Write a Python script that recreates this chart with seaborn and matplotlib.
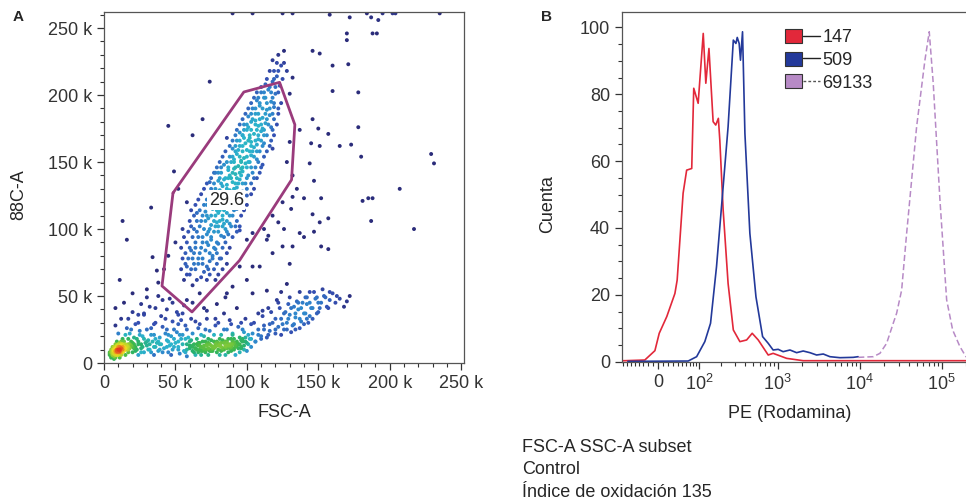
import numpy as np
import pandas as pd
import matplotlib
matplotlib.use("Agg")
import matplotlib.pyplot as plt
import seaborn as sns
from matplotlib.colors import LinearSegmentedColormap
from matplotlib.patches import Patch
from matplotlib.lines import Line2D
from matplotlib.legend_handler import HandlerTuple
from matplotlib.ticker import FixedLocator, MultipleLocator

# ---------------- panel A : FSC-A vs 88C-A events (k units) ----------------
gate_pts = [
    (62,58),(65,62),(60,66),(68,64),(64,70),(70,68),(66,74),(72,72),(62,78),(69,78),(74,76),(67,82),
    (71,84),(76,80),(64,86),(73,88),(78,85),(69,90),(75,92),(80,89),(58,72),(77,70),(82,78),(61,84),
    (66,94),(72,96),(77,98),(82,95),(70,100),(75,103),(80,102),(85,100),(68,106),(73,108),(78,110),
    (83,107),(88,104),(71,113),(76,115),(81,114),(86,112),(90,110),(74,118),(79,120),(84,119),(89,117),
    (93,115),(65,112),(63,100),(87,96),(92,102),(77,106),(82,118),(70,118),
    (76,124),(81,126),(86,123),(91,125),(95,121),(78,130),(83,132),(88,129),(93,131),(97,128),(80,136),
    (85,138),(90,135),(95,137),(99,134),(82,142),(87,144),(92,141),(97,143),(101,140),(84,148),(89,150),
    (94,147),(99,149),(103,146),(74,135),(78,142),(105,138),(100,125),(88,140),(92,128),
    (88,154),(93,156),(98,153),(103,155),(107,152),(90,160),(95,162),(100,159),(105,161),(109,158),
    (93,166),(98,168),(103,165),(108,167),(112,164),(95,172),(100,174),(105,171),(110,173),(114,170),
    (98,178),(103,180),(108,177),(113,179),(117,176),(86,168),(118,160),(102,150),(96,145),(111,148),
    (101,184),(106,186),(111,183),(116,185),(104,190),(109,192),(114,189),(119,191),(107,196),(112,198),
    (117,195),(110,202),(115,204),(120,201),(113,208),(118,210),(123,207),(121,214),(116,218),(124,222),
    (118,226),(122,230),(126,233),(128,218),
    (74,100),(79,105),(84,104),(72,110),(80,112),(85,116),(77,121),(83,123),(87,120),(81,129),(86,133),
    (90,127),(84,137),(89,138),(94,134),(87,146),(91,145),(96,140),(91,152),(96,151),(100,146),(94,159),
    (99,164),(104,158),(97,170),(102,168),(107,163),(101,176),(106,181),(111,175),
]
# extra gate events, read row by row: (88C-A level, FSC-A values)
gate_rows = [
    (62, [56, 72, 78]), (66, [58, 74, 80]), (70, [54, 61, 73, 83]), (74, [57, 63, 69, 79, 86]),
    (78, [55, 59, 66, 76, 81]), (82, [57, 63, 74, 79, 86]), (86, [54, 60, 68, 77, 83, 88]),
    (90, [58, 64, 72, 79, 85]), (94, [56, 62, 69, 75, 84, 90]), (98, [59, 65, 73, 80, 86, 93]),
    (102, [61, 67, 78, 83, 89, 95]), (106, [60, 65, 71, 81, 86, 93]), (110, [63, 69, 75, 83, 88, 96]),
    (114, [61, 67, 79, 84, 91, 98]), (118, [64, 72, 77, 87, 94, 100]), (122, [66, 72, 80, 85, 89, 97]),
    (126, [68, 74, 79, 88, 94, 103]), (130, [70, 75, 86, 91, 100, 105]), (134, [72, 77, 82, 92, 97, 103]),
    (138, [75, 81, 87, 93, 100, 107]), (142, [77, 80, 90, 95, 104, 109]), (146, [79, 82, 92, 97, 106, 110]),
    (150, [81, 86, 91, 96, 101, 108]), (154, [83, 90, 95, 100, 105, 112]), (158, [85, 92, 97, 102, 107, 114]),
    (162, [88, 92, 97, 103, 111, 116]), (166, [90, 95, 101, 106, 110, 117]), (170, [92, 97, 102, 108, 112, 119]),
    (174, [93, 98, 103, 107, 112, 118]), (178, [95, 100, 106, 110, 115, 121]), (182, [97, 104, 109, 114, 119]),
    (186, [99, 103, 108, 113, 118, 122]), (190, [101, 106, 111, 116, 122]), (194, [103, 109, 114, 119, 124]),
    (198, [105, 108, 113, 118]), (202, [107, 112, 117, 122]), (206, [110, 116, 120]),
    (212, [114, 119, 125]), (218, [119, 122]), (224, [121, 126]),
]
band_pts = [
    (5,5),(6,6),(5,8),(7,7),(6,9),(8,6),(7,5),(6,7),(8,8),(5,10),(7,10),(9,9),(9,7),(10,8),(8,11),
    (10,10),(11,9),(12,11),(11,12),(13,10),(14,12),(12,13),(15,11),(13,14),(16,13),(17,12),(15,14),
    (18,14),(19,13),(6,12),(9,13),(4,7),(7,3),(10,6),(12,8),(14,9),(16,10),(18,11),(20,12),(11,15),
    (14,16),(20,15),(21,11),(6,8),(7,9),(8,9),(6,6),(9,10),
    (22,9),(24,14),(26,11),(28,8),(30,13),(32,10),(34,16),(36,12),(38,9),(40,14),(42,11),(44,17),
    (46,13),(48,10),(50,15),(52,12),(54,18),(56,9),(58,14),(60,11),(23,18),(27,20),(31,17),(35,21),
    (39,19),(43,22),(47,20),(51,23),(55,21),(59,19),(25,24),(33,26),(41,27),(49,25),(57,28),(29,15),
    (37,15),(45,8),(53,7),(21,19),
    (62,9),(64,11),(66,8),(68,12),(70,10),(72,13),(74,9),(76,11),(78,14),(80,10),(82,12),(84,15),
    (86,11),(88,13),(90,16),(92,12),(94,14),(96,17),(98,13),(100,15),(63,14),(67,15),(71,16),(75,17),
    (79,16),(83,17),(87,18),(91,18),(95,19),(65,10),(69,9),(73,11),(77,12),(81,13),(85,13),(89,14),
    (93,15),(97,16),(70,13),(74,14),(78,12),(82,15),(86,16),(90,14),(76,9),(84,10),(88,11),(92,13),
    (80,15),(72,10),(66,13),(60,13),(61,17),(94,11),(99,19),
    (62,22),(66,26),(70,20),(74,24),(78,28),(82,21),(86,25),(90,22),(94,27),(98,23),(64,31),(72,33),
    (80,30),(88,32),(96,30),(68,6),(85,6),(100,9),(58,5),
    (102,18),(104,22),(106,16),(108,25),(110,20),(112,28),(114,19),(116,24),(118,30),(120,22),
    (122,27),(124,33),(126,25),(128,30),(130,36),(132,28),(134,34),(136,40),(138,31),(140,37),
    (142,44),(144,35),(146,41),(148,48),(150,38),(152,45),(154,50),(156,42),(158,47),(160,52),
    (105,30),(111,35),(117,38),(123,41),(129,44),(135,46),(141,49),(147,53),(153,55),(131,23),
    (137,26),(143,30),(127,38),(133,42),(139,45),
    (8,28),(12,33),(16,26),(20,38),(14,45),(24,30),(28,36),(32,42),(36,30),(40,35),(44,40),(48,31),
    (52,36),(56,43),(10,22),(18,22),(26,44),(38,50),(46,48),(54,32),
]
band_rows = [
    (4, [5, 8, 11]), (6, [4, 9, 12, 15, 24, 35, 47, 64, 73, 81, 92]),
    (8, [4, 9, 11, 13, 17, 20, 26, 33, 41, 57, 63, 71, 79, 87, 95]),
    (9, [68, 75, 82, 89]), (11, [64, 70, 77, 83, 90, 96]), (13, [62, 67, 75, 80, 87, 93]),
    (15, [66, 73, 79, 86, 91]),
    (10, [6, 11, 14, 17, 23, 31, 39, 52, 58, 67, 75, 83, 91, 98]),
    (12, [7, 10, 13, 16, 22, 27, 35, 44, 49, 62, 68, 76, 85, 89, 96, 103]),
    (14, [8, 10, 12, 17, 21, 26, 32, 39, 47, 55, 65, 72, 81, 88, 95, 101]),
    (16, [9, 12, 19, 24, 30, 38, 45, 52, 60, 69, 77, 85, 93, 99, 106]),
    (18, [13, 17, 28, 36, 49, 57, 65, 73, 81, 89, 97, 103, 110]),
    (21, [15, 25, 33, 45, 53, 68, 77, 90, 101, 108, 115, 124]),
    (25, [19, 30, 44, 58, 71, 84, 97, 112, 120, 128, 134]),
    (29, [22, 35, 52, 67, 89, 103, 116, 125, 133, 140]),
    (33, [17, 43, 61, 78, 99, 120, 129, 137, 142, 146]),
    (37, [28, 55, 84, 108, 126, 134, 141, 149]),
    (41, [36, 70, 93, 115, 131, 138, 145, 151, 157]),
    (45, [48, 62, 122, 136, 144, 150, 162]), (49, [30, 85, 130, 142, 149, 155]), (53, [137, 144, 158]),
]
sparse_pts = [
    (45,177),(62,170),(74,210),(69,182),(49,143),(33,116),(13,106),(16,92),(11,62),(30,55),(34,79),
    (37,69),(20,52),(24,36),(8,41),(132,213),(130,201),(137,174),(145,164),(151,162),(146,182),
    (150,175),(157,171),(165,162),(173,163),(178,176),(178,202),(171,223),(170,246),(170,241),
    (172,258),(187,258),(188,246),(191,246),(192,256),(203,262),(160,222),(146,233),(151,231),
    (144,149),(147,136),(152,123),(160,203),(180,154),(181,121),(188,123),(185,123),(207,130),
    (187,106),(229,156),(231,149),(217,100),(146,111),(151,105),(157,108),(137,97),(140,94),
    (147,98),(152,87),(157,85),(132,87),(125,87),(130,74),(140,123),(131,115),(132,124),(126,100),
    (163,50),(165,48),(172,50),(168,42),(170,46),
    (90,261),(104,261),(125,261),(132,261),(158,260),(184,261),(195,261),(202,261),(204,261),(235,261),
    (95,99),(100,92),(104,97),(114,92),(118,82),(109,72),(100,62),(90,57),(104,52),(114,54),(121,47),
    (111,39),(124,53),(128,59),(104,72),(95,72),(86,52),(79,44),(72,39),(67,52),(58,47),(51,38),(41,47),
    (128,150),(132,140),(135,130),(125,120),(118,110),(112,100),(130,165),(122,105),(115,95),
    (55,100),(50,90),(45,80),(58,120),(52,130),(42,70),(38,60),
]
gate_x = [48.3, 97.9, 122.9, 133.6, 131.3, 94.9, 61.6, 40.6, 48.3]
gate_y = [126.9, 202.3, 209.5, 177.9, 136.8, 76.6, 38.1, 57.5, 126.9]
gate_pct = "29.6"

# ---------------- panel B : PE (Rodamina) histograms ----------------
red_x = [-85, -75, -27, -6.5, 2, 17, 34, 39, 53, 62, 76, 82, 96, 114, 124, 137, 156, 169, 183, 191,
         211, 244, 284, 343, 416, 487, 578, 766, 880, 1286, 2050, 10000, 100000, 262144]
red_y = [0.3, 0.3, 0.5, 3.3, 8.5, 13.5, 20.4, 24.4, 50.4, 57.3, 57.8, 81.8, 77.3, 98.2, 83.3, 93.7,
         71.8, 70.8, 72.8, 66.3, 45.4, 23.4, 9.5, 6.0, 6.5, 8.5, 6.5, 2.0, 2.5, 1.0, 0.3, 0.3, 0.3, 0.3]
blue_x = [-67, 66, 91, 120, 144, 173, 201, 244, 284, 306, 318, 336, 349, 370, 396, 456, 542, 654,
          766, 880, 1014, 1166, 1413, 1703, 2050, 2475, 2987, 3600, 4340, 5745, 8343, 9600]
blue_y = [0.1, 0.2, 1.5, 6.0, 11.5, 28.4, 46.4, 70.3, 96.2, 95.2, 97.0, 95.2, 90.2, 98.7, 68.3, 38.4,
          19.4, 7.5, 5.5, 3.5, 3.7, 3.0, 3.5, 2.7, 3.2, 2.7, 2.0, 2.3, 1.5, 1.2, 1.3, 1.5]
purple_x = [9600, 14640, 17670, 21330, 25670, 28245, 32500, 37400, 49500, 62500, 70560, 78900,
            95250, 115000, 136100, 167000, 197600, 262144]
purple_y = [1.3, 1.5, 2.5, 5.5, 11.5, 14.5, 21.4, 38.4, 70.3, 90.2, 98.7, 83.3, 48.4, 18.5, 9.5,
            4.5, 1.5, 1.0]
legend_labels = ["147", "509", "69133"]

footer = "FSC-A SSC-A subset\nControl\nÍndice de oxidación 135"

# ---------------- style ----------------
sns.set_style("ticks")
plt.rcParams["font.family"] = ["Liberation Sans", "DejaVu Sans"]
plt.rcParams["mathtext.fontset"] = "custom"
plt.rcParams["mathtext.rm"] = "Liberation Sans"
plt.rcParams["axes.edgecolor"] = "#555555"
plt.rcParams["axes.linewidth"] = 0.9
plt.rcParams["xtick.color"] = "#333333"
plt.rcParams["ytick.color"] = "#333333"

red = "#e2283a"
blue = "#23399a"
purple = "#b78ac6"
FS = 13

fig = plt.figure(figsize=(9.66, 5.03), dpi=100)
axA = fig.add_axes([104 / 966, 140 / 503, 360 / 966, 351 / 503])
axB = fig.add_axes([621.7 / 966, 141.3 / 503, 354.3 / 966, 350 / 503])

# ---- panel A ----
all_pts = gate_pts + band_pts + sparse_pts
for yv, xs in gate_rows + band_rows:
    all_pts += [(xv, yv) for xv in xs]
pts = np.array(all_pts, dtype=float)
norm_pts = pts / np.array([250.0, 262.0])
d2 = ((norm_pts[:, None, :] - norm_pts[None, :, :]) ** 2).sum(-1)
dens = np.exp(-d2 / (2 * 0.02 ** 2)).sum(1)
df = pd.DataFrame({"FSC-A": pts[:, 0], "88C-A": pts[:, 1], "dens": dens}).sort_values("dens")

flow_cmap = LinearSegmentedColormap.from_list(
    "flow", [(0.0, "#2b2c7a"), (0.1, "#3550b3"), (0.2, "#2f86cc"), (0.3, "#2bb5cc"),
             (0.42, "#26b070"), (0.6, "#3fb84a"), (0.78, "#b5d52a"), (0.9, "#f1e01e"),
             (1.0, "#e33a1f")])
sns.scatterplot(data=df, x="FSC-A", y="88C-A", hue="dens", palette=flow_cmap,
                hue_norm=(2, dens.max()), s=8, linewidth=0, legend=False, ax=axA)

sns.lineplot(x=gate_x, y=gate_y, sort=False, color="#9a3b7c", lw=2.0, ax=axA, estimator=None)
axA.text(85.6, 121.4, gate_pct, fontsize=FS, ha="center", va="center",
         bbox=dict(facecolor="white", edgecolor="none", pad=1.0))

axA.set_xlim(0, 252)
axA.set_ylim(0, 262)
axA.xaxis.set_minor_locator(MultipleLocator(10))
axA.yaxis.set_minor_locator(MultipleLocator(10))
ticklab = ["0" if v == 0 else f"{v} k" for v in range(0, 251, 50)]
axA.set_xticks(range(0, 251, 50), ticklab)
axA.set_yticks(range(0, 251, 50), ticklab)
axA.tick_params(which="major", length=5, width=0.9, labelsize=FS)
axA.tick_params(which="minor", length=3, width=0.8)
axA.set_xlabel("FSC-A", fontsize=FS, labelpad=9)
axA.set_ylabel("88C-A", fontsize=FS)
axA.yaxis.set_label_coords(-0.214, 0.479)

# ---- panel B ----
c = 70.0
axB.set_xscale("function", functions=(lambda v: np.arcsinh(np.asarray(v) / c),
                                      lambda t: c * np.sinh(np.asarray(t))))
sns.lineplot(x=red_x, y=red_y, color=red, lw=1.2, ax=axB, estimator=None)
sns.lineplot(x=blue_x, y=blue_y, color=blue, lw=1.2, ax=axB, estimator=None)
sns.lineplot(x=purple_x, y=purple_y, color=purple, lw=1.1, ax=axB, estimator=None,
             linestyle=(0, (4, 2)))
axB.set_xlim(-85, 262144)
axB.set_ylim(0, 104.7)
axB.xaxis.set_major_locator(FixedLocator([0, 100, 1000, 10000, 100000]))
axB.set_xticklabels(["0", r"$\mathregular{10^2}$", r"$\mathregular{10^3}$",
                     r"$\mathregular{10^4}$", r"$\mathregular{10^5}$"])
minors = [-80, -70, -60, -50, -40, -30, -20, -10, 10, 20, 30, 40, 50, 60, 70, 80, 90]
for dec in (100, 1000, 10000, 100000):
    minors += [dec * k for k in range(2, 10) if dec * k <= 262144]
axB.xaxis.set_minor_locator(FixedLocator(minors))
axB.yaxis.set_major_locator(MultipleLocator(20))
axB.yaxis.set_minor_locator(MultipleLocator(5))
axB.tick_params(which="major", length=5, width=0.9, labelsize=FS)
axB.tick_params(which="minor", length=3, width=0.8)
axB.spines["right"].set_visible(False)
axB.set_xlabel("PE (Rodamina)", fontsize=FS)
axB.xaxis.set_label_coords(0.475, -0.125)
axB.set_ylabel("Cuenta", fontsize=FS)
axB.yaxis.set_label_coords(-0.185, 0.45)

handles = [
    (Patch(facecolor=red, edgecolor="#333333", lw=0.8), Line2D([], [], color="#222222", lw=1.0)),
    (Patch(facecolor=blue, edgecolor="#333333", lw=0.8), Line2D([], [], color="#222222", lw=1.0)),
    (Patch(facecolor=purple, edgecolor="#333333", lw=0.8),
     Line2D([], [], color="#555555", lw=1.0, linestyle=(0, (2, 1.5)))),
]
axB.legend(handles, legend_labels, handler_map={tuple: HandlerTuple(ndivide=None, pad=0.1)},
           loc="upper left", bbox_to_anchor=(0.462, 0.95), frameon=False, fontsize=FS,
           handlelength=1.9, handleheight=0.8, handletextpad=0.15, labelspacing=0.3,
           borderaxespad=0, borderpad=0)

fig.text(18 / 966, 1 - 17 / 503, "A", fontsize=11, fontweight="bold", ha="center", va="center")
fig.text(547 / 966, 1 - 17 / 503, "B", fontsize=11, fontweight="bold", ha="center", va="center")
fig.text(521.7 / 966, 1 - 439 / 503, footer, fontsize=13, ha="left", va="top", linespacing=1.42)

fig.savefig("out.png", dpi=100)
